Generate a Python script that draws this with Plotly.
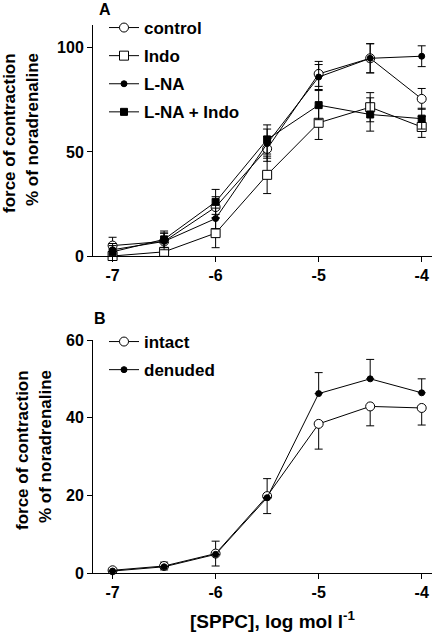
import plotly.graph_objects as go

# ---- data ----
conc = [-7, -6.5, -6, -5.5, -5, -4.5, -4]

control = [5, 7, 23.5, 51.5, 87.5, 95, 75.5]
control_err = [4, 4, 5, 6, 6, 7, 5]
indo = [0, 2, 11, 39, 64, 71.5, 62]
indo_err = [2, 2, 7, 9, 8, 7, 5]
lna = [3, 7, 18, 54, 86, 95, 96]
lna_err = [3, 4, 5, 7, 6, 7, 5]
lna_indo = [2, 8, 26, 56, 72.5, 68, 66]
lna_indo_err = [3, 4, 6, 7, 7, 8, 5]

intact = [0.7, 1.8, 5, 19.8, 38.4, 42.9, 42.5]
intact_err_up = [0.5, 1, 3.2, 4.5, 0, 0, 0]
intact_err_down = [0.5, 1, 3.2, 4.5, 6.5, 5, 4.4]
denuded = [0.5, 1.6, 4.8, 19.4, 46.2, 50, 46.4]
denuded_err_up = [0, 0, 0, 0, 5.4, 5, 3.6]
denuded_err_down = [0, 0, 0, 0, 0, 0, 0]

x_ticks = [-7, -6, -5, -4]
x_tick_labels = ["-7", "-6", "-5", "-4"]
yA_ticks = [0, 50, 100]
yB_ticks = [0, 20, 40, 60]

FONT = "Arial, 'Liberation Sans', sans-serif"
BLACK = "black"

fig = go.Figure()

def add(y, err, name, filled, symbol, size, xa, ya, legend, err_minus=None):
    ey = dict(type="data", array=err, visible=True, color=BLACK, thickness=1, width=4)
    if err_minus is not None:
        ey["symmetric"] = False
        ey["arrayminus"] = err_minus
    fig.add_trace(go.Scatter(
        x=conc, y=y, name=name, mode="lines+markers",
        line=dict(color=BLACK, width=1),
        marker=dict(symbol=symbol, size=size, color=BLACK if filled else "white",
                    line=dict(color=BLACK, width=1)),
        error_y=ey, xaxis=xa, yaxis=ya, legend=legend, legendgroup=name,
        cliponaxis=False,
    ))

add(control, control_err, "control", False, "circle", 9, "x", "y", "legend")
add(indo, indo_err, "Indo", False, "square", 9, "x", "y", "legend")
add(lna, lna_err, "L-NA", True, "circle", 6, "x", "y", "legend")
add(lna_indo, lna_indo_err, "L-NA + Indo", True, "square", 7, "x", "y", "legend")

add(intact, intact_err_up, "intact", False, "circle", 9, "x2", "y2", "legend2", intact_err_down)
add(denuded, denuded_err_up, "denuded", True, "circle", 6, "x2", "y2", "legend2", denuded_err_down)

axis_common = dict(showline=True, linecolor=BLACK, linewidth=1, ticks="outside",
                   ticklen=5, tickcolor=BLACK, tickwidth=1, showgrid=False, zeroline=False,
                   tickfont=dict(family=FONT, size=16, color=BLACK, weight="bold"))

def ann(text, x, y, size, angle=0):
    return dict(text=text, x=x, y=y, xref="paper", yref="paper", showarrow=False,
                textangle=angle, xanchor="center", yanchor="middle",
                font=dict(family=FONT, size=size, color=BLACK, weight="bold"))

W_PLOT = 339.0
H_PLOT = 548.0
def px(xp):
    return (xp - 93) / W_PLOT
def py(yp):
    return (573 - yp) / H_PLOT

legend_font = dict(family=FONT, size=17, color=BLACK, weight="bold")
xr = [-7.19, -3.9]
fig.update_layout(
    width=444, height=640,
    margin=dict(l=93, r=12, t=25, b=67, autoexpand=False),
    paper_bgcolor="white", plot_bgcolor="white",
    font=dict(family=FONT, color=BLACK, weight="bold"),
    xaxis=dict(domain=[0, 1], range=xr, anchor="y", tickvals=x_ticks, ticktext=x_tick_labels, **axis_common),
    yaxis=dict(domain=[py(256), 1], range=[0, 111], anchor="x", tickvals=yA_ticks, **axis_common),
    xaxis2=dict(domain=[0, 1], range=xr, anchor="y2", tickvals=x_ticks, ticktext=x_tick_labels, **axis_common),
    yaxis2=dict(domain=[0, py(340)], range=[0, 60], anchor="x2", tickvals=yB_ticks, **axis_common),
    legend=dict(x=px(104), y=py(10), xanchor="left", yanchor="top", bgcolor="rgba(0,0,0,0)",
                font=legend_font, tracegroupgap=3, itemwidth=30),
    legend2=dict(x=px(104), y=py(324), xanchor="left", yanchor="top", bgcolor="rgba(0,0,0,0)",
                 font=legend_font, tracegroupgap=3, itemwidth=30),
    showlegend=True,
    annotations=[
        ann("A", px(105), py(9), 16),
        ann("B", px(100), py(318), 16),
        ann("force of contraction", px(9), py(133), 17, -90),
        ann("% of noradrenaline", px(33), py(130), 17, -90),
        ann("force of contraction", px(22), py(450), 17, -90),
        ann("% of noradrenaline", px(45), py(447), 17, -90),
        ann("[SPPC], log mol l<sup>-1</sup>", px(272), py(620), 19),
    ],
)

fig.write_html("out.html", config={"displayModeBar": False},
               post_script="document.body.style.margin='0';")
